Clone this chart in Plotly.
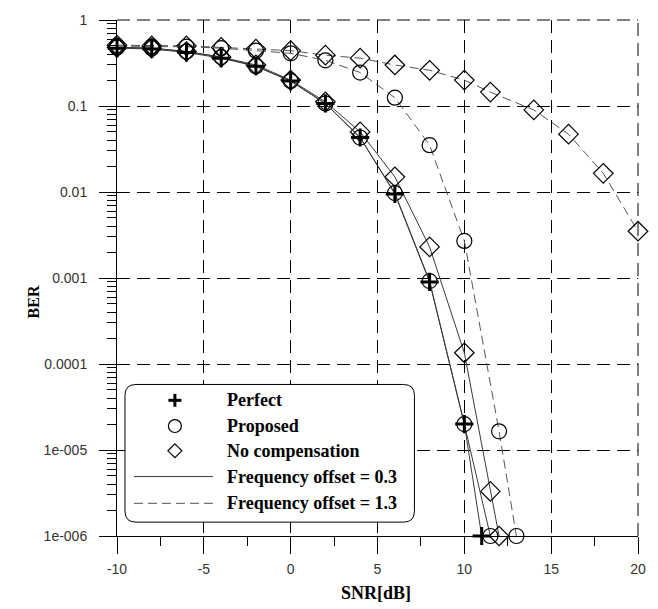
import plotly.graph_objects as go

# ---------------- data ----------------
snr_perfect = [-10, -8, -6, -4, -2, 0, 2, 4, 6, 8, 10, 11]
ber_perfect = [0.47, 0.46, 0.42, 0.36, 0.29, 0.195, 0.107, 0.043, 0.0095, 0.0009, 2.0e-5, 1e-6]

snr_prop_03 = [-10, -8, -6, -4, -2, 0, 2, 4, 6, 8, 10, 11.5]
ber_prop_03 = [0.48, 0.47, 0.43, 0.37, 0.29, 0.195, 0.107, 0.043, 0.0097, 0.00092, 2.0e-5, 1e-6]

snr_noc_03 = [-10, -8, -6, -4, -2, 0, 2, 4, 6, 8, 10, 11.5, 12]
ber_noc_03 = [0.48, 0.47, 0.43, 0.37, 0.30, 0.20, 0.112, 0.05, 0.015, 0.0023, 1.35e-4, 3.3e-6, 1e-6]

snr_prop_13 = [-10, -8, -6, -4, -2, 0, 2, 4, 6, 8, 10, 12, 13]
ber_prop_13 = [0.50, 0.49, 0.49, 0.47, 0.44, 0.41, 0.34, 0.245, 0.125, 0.035, 0.0027, 1.65e-5, 1e-6]

snr_noc_13 = [-10, -8, -6, -4, -2, 0, 2, 4, 6, 8, 10, 11.5, 14, 16, 18, 20]
ber_noc_13 = [0.51, 0.50, 0.50, 0.48, 0.46, 0.44, 0.39, 0.36, 0.30, 0.26, 0.20, 0.145, 0.09, 0.047, 0.0165, 0.0035]

x_tickvals = [-10, -5, 0, 5, 10, 15, 20]
x_ticktext = ["-10", "-5", "0", "5", "10", "15", "20"]
y_tickvals = [1e-6, 1e-5, 1e-4, 1e-3, 1e-2, 1e-1, 1]
y_ticktext = ["1e-006", "1e-005", "0.0001", "0.001", "0.01", "0.1", "1"]

legend_labels = ["Perfect", "Proposed", "No compensation",
                 "Frequency offset = 0.3", "Frequency offset = 1.3"]

# ---------------- layout geometry ----------------
W, H = 658, 609
L, R, T, B = 117, 639, 15, 536
PW, PH = R - L, B - T


def px_x(p):
    return (p - L) / PW


def px_y(p):
    return (B - p) / PH


SOLID = dict(color="#3a3a3a", width=1)
DASHED = dict(color="#555555", width=1, dash="9px,5px")

m_cross = dict(symbol="cross-thin", size=13, line=dict(color="black", width=3))
m_circle = dict(symbol="circle-open", size=15, color="black", line=dict(width=1.2))
m_diam = dict(symbol="diamond-open", size=15, color="black", line=dict(width=1.2))

fig = go.Figure()


def add(x, y, line, marker):
    fig.add_trace(go.Scatter(x=x, y=y, mode="lines+markers", line=line,
                             marker=marker, cliponaxis=False,
                             showlegend=False, hoverinfo="skip"))


add(snr_noc_13, ber_noc_13, DASHED, m_diam)
add(snr_prop_13, ber_prop_13, DASHED, m_circle)
add(snr_noc_03, ber_noc_03, SOLID, m_diam)
add(snr_prop_03, ber_prop_03, SOLID, m_circle)
add(snr_perfect, ber_perfect, SOLID, m_cross)

GRID_DASH = "13px,7px"
# top and right grid lines (plotly omits grid lines at the range edges)
fig.add_shape(type="line", xref="paper", yref="paper", x0=0, x1=1, y0=1, y1=1,
              line=dict(color="black", width=1, dash=GRID_DASH), layer="below")
fig.add_shape(type="line", xref="paper", yref="paper", x0=1, x1=1, y0=0, y1=1,
              line=dict(color="black", width=1, dash=GRID_DASH), layer="below")

# ---------------- custom legend (drawn above the grid) ----------------
bx0, bx1, by0, by1, rad = 125, 415, 383, 522, 11
x0, x1 = px_x(bx0), px_x(bx1)
y0, y1 = px_y(by1), px_y(by0)
rx, ry = rad / PW, rad / PH
path = (f"M {x0+rx},{y1} L {x1-rx},{y1} Q {x1},{y1} {x1},{y1-ry} "
        f"L {x1},{y0+ry} Q {x1},{y0} {x1-rx},{y0} L {x0+rx},{y0} "
        f"Q {x0},{y0} {x0},{y0+ry} L {x0},{y1-ry} Q {x0},{y1} {x0+rx},{y1} Z")
fig.add_shape(type="path", path=path, xref="paper", yref="paper",
              fillcolor="white", line=dict(color="black", width=1), layer="above")

row_y = [399, 425, 450, 476, 503]
sx = 175
text_x = 225
# cross symbol
fig.add_shape(type="line", xref="paper", yref="paper", layer="above",
              x0=px_x(sx - 6.5), x1=px_x(sx + 6.5), y0=px_y(row_y[0]), y1=px_y(row_y[0]),
              line=dict(color="black", width=3))
fig.add_shape(type="line", xref="paper", yref="paper", layer="above",
              x0=px_x(sx), x1=px_x(sx), y0=px_y(row_y[0] - 6.5), y1=px_y(row_y[0] + 6.5),
              line=dict(color="black", width=3))
# circle symbol
fig.add_shape(type="circle", xref="paper", yref="paper", layer="above",
              x0=px_x(sx - 6.5), x1=px_x(sx + 6.5),
              y0=px_y(row_y[1] + 6.5), y1=px_y(row_y[1] - 6.5),
              line=dict(color="black", width=1.2))
# diamond symbol
cy = row_y[2]
dpath = (f"M {px_x(sx)},{px_y(cy - 7)} L {px_x(sx + 7)},{px_y(cy)} "
         f"L {px_x(sx)},{px_y(cy + 7)} L {px_x(sx - 7)},{px_y(cy)} Z")
fig.add_shape(type="path", path=dpath, xref="paper", yref="paper", layer="above",
              line=dict(color="black", width=1.2))
# line samples
for i, ln in zip([3, 4], [SOLID, DASHED]):
    fig.add_shape(type="line", xref="paper", yref="paper",
                  x0=px_x(134), x1=px_x(213), y0=px_y(row_y[i]), y1=px_y(row_y[i]),
                  line=ln, layer="above")
for i, lab in enumerate(legend_labels):
    fig.add_annotation(x=px_x(text_x), y=px_y(row_y[i]), xref="paper", yref="paper",
                       text=f"<b>{lab}</b>", showarrow=False, xanchor="left",
                       yanchor="middle",
                       font=dict(family="Liberation Serif", size=18, color="black"))

# axis titles
fig.add_annotation(x=px_x(33), y=px_y(300), xref="paper", yref="paper",
                   text="<b>BER</b>", textangle=-90, showarrow=False,
                   xanchor="center", yanchor="middle",
                   font=dict(family="Liberation Serif", size=16, color="black"))
fig.add_annotation(x=px_x(376), y=px_y(594), xref="paper", yref="paper",
                   text="<b>SNR[dB]</b>", showarrow=False,
                   xanchor="center", yanchor="middle",
                   font=dict(family="Liberation Serif", size=18, color="black"))

GRID = dict(showgrid=True, gridcolor="black", gridwidth=1, griddash=GRID_DASH)
fig.update_layout(
    width=W, height=H,
    margin=dict(l=L, r=W - R, t=T, b=H - B),
    paper_bgcolor="white", plot_bgcolor="white",
    showlegend=False,
    xaxis=dict(range=[-10, 20], tickmode="array", tickvals=x_tickvals, ticktext=x_ticktext,
               ticks="outside", ticklen=17, tickcolor="black", tickwidth=1,
               showline=True, linecolor="black", linewidth=1, zeroline=False,
               ticklabelstandoff=3,
               tickfont=dict(family="Liberation Sans", size=14, color="#333333"),
               minor=dict(ticks="outside", ticklen=9, tickcolor="black",
                          tickvals=[-7.5, -2.5, 2.5, 7.5, 12.5, 17.5], showgrid=False),
               **GRID),
    yaxis=dict(type="log", range=[-6, 0], tickmode="array", tickvals=y_tickvals,
               ticktext=y_ticktext, ticks="outside", ticklen=17, tickcolor="black",
               tickwidth=1, showline=True, linecolor="black", linewidth=1,
               zeroline=False, ticklabelstandoff=9,
               tickfont=dict(family="Liberation Sans", size=14, color="#333333"),
               minor=dict(ticks="outside", ticklen=9, tickcolor="black",
                          tickvals=[m * 10.0 ** e for e in range(-6, 0) for m in range(2, 10)],
                          showgrid=False),
               **GRID),
)

fig.write_html("out.html", config={"displayModeBar": False},
               post_script="document.body.style.margin='0px';"
                           "document.body.style.overflow='hidden';")
